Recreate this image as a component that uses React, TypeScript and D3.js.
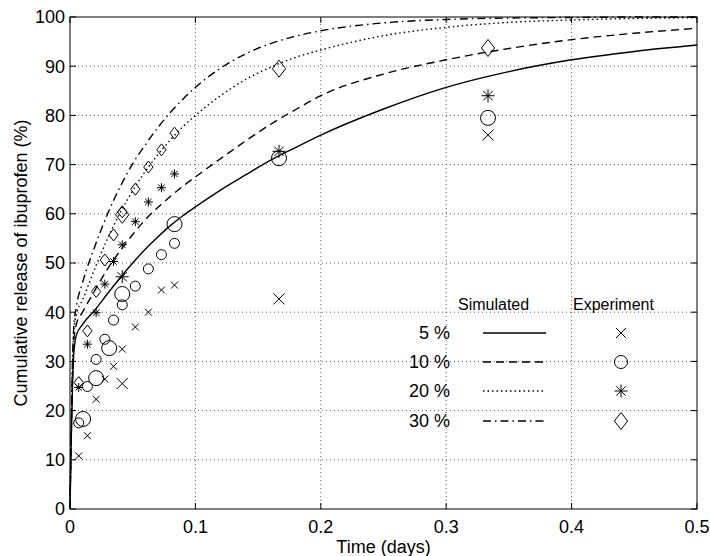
import React, { useEffect, useRef } from 'react';
import * as d3 from 'd3';

// simulated release curves (time in days, release in %)
const simTime = [0, 0.001, 0.002, 0.003, 0.005, 0.01, 0.02, 0.03, 0.04, 0.05, 0.06, 0.07, 0.08, 0.09, 0.1, 0.12, 0.14, 0.16, 0.18, 0.2, 0.25, 0.3, 0.35, 0.4, 0.45, 0.5];
const sim5 = [0, 14, 25, 31.5, 35.3, 37.5, 40.5, 43.8, 47, 50, 52.8, 55.3, 57.6, 59.6, 61.4, 64.8, 67.9, 70.9, 73.5, 76, 81.3, 85.7, 88.9, 91.3, 93, 94.3];
const sim10 = [0, 15, 27, 34, 37.5, 40, 44.5, 48.8, 52.5, 55.8, 58.8, 61.3, 63.5, 65.6, 67.5, 71.2, 74.8, 78.2, 81.2, 84, 88.4, 91.3, 93.6, 95.4, 96.7, 97.7];
const sim20 = [0, 16, 29, 36, 39.5, 42.5, 49, 55, 60.2, 64.7, 68.6, 72, 75, 77.7, 80, 84, 87.3, 89.8, 91.8, 93.3, 96.2, 97.9, 98.9, 99.4, 99.7, 99.85];
const sim30 = [0, 17, 30, 37, 41, 46, 53.5, 60, 65.5, 70.2, 74, 77.5, 80.6, 83.3, 85.7, 89.6, 92.5, 94.6, 96.1, 97.2, 98.8, 99.5, 99.8, 99.9, 100, 100];

// experiment, sampled every 10 min up to 2 h (small markers)
const minutesA = [10, 20, 30, 40, 50, 60, 75, 90, 105, 120];
const expA5 = [10.8, 14.9, 22.3, 26.4, 29, 32.5, 37, 40, 44.5, 45.5];
const expA10 = [17.5, 24.9, 30.4, 34.5, 38.4, 41.5, 45.3, 48.8, 51.7, 54];
const expA20 = [24.7, 33.5, 39.9, 45.7, 50.3, 53.7, 58.4, 62.4, 65.3, 68.1];
const expA30 = [25.7, 36.2, 44.2, 50.6, 55.7, 60.4, 65, 69.5, 73, 76.4];

// experiment, second series (large markers)
const minutesB5 = [60, 240, 480];
const expB5 = [25.5, 42.7, 76];
const minutesB10 = [15, 30, 45, 60, 120, 240, 480];
const expB10 = [18.3, 26.6, 32.7, 43.7, 57.9, 71.3, 79.5];
const minutesB20 = [60, 240, 480];
const expB20 = [47.2, 72.7, 84];
const minutesB30 = [60, 240, 480];
const expB30 = [59.8, 89.5, 93.7];

const labels = ['5 %', '10 %', '20 %', '30 %'];
const xTicks = [0, 0.1, 0.2, 0.3, 0.4, 0.5];
const yTicks = [0, 10, 20, 30, 40, 50, 60, 70, 80, 90, 100];

const dashes = [null, '8,5', '1.5,3', '8,4,1.5,4'];
const markers = ['x', 'o', '*', 'd'];

function markerPath(type: string, s: number) {
  if (type === 'x') return `M${-s},${-s}L${s},${s}M${-s},${s}L${s},${-s}`;
  if (type === '*') {
    const k = s * 0.72;
    return `M${-s},0L${s},0M0,${-s}L0,${s}M${-k},${-k}L${k},${k}M${-k},${k}L${k},${-k}`;
  }
  if (type === 'd') {
    const w = s * 0.78;
    return `M0,${-s}L${w},0L0,${s}L${-w},0Z`;
  }
  return '';
}

export default function App() {
  const svgRef = useRef<SVGSVGElement | null>(null);

  useEffect(() => {
    const svg = d3.select(svgRef.current);
    svg.selectAll('*').remove();
    const font = '"Liberation Sans", Arial, Helvetica, sans-serif';

    const x = d3.scaleLinear().domain([0, 0.5]).range([70, 697]);
    const y = d3.scaleLinear().domain([0, 100]).range([509, 17]);

    // grid
    const grid = svg.append('g').attr('stroke', '#333').attr('stroke-width', 0.8).attr('stroke-dasharray', '1,3');
    xTicks.slice(1, -1).forEach(t => {
      grid.append('line').attr('x1', x(t)).attr('x2', x(t)).attr('y1', y(0)).attr('y2', y(100));
    });
    yTicks.slice(1, -1).forEach(t => {
      grid.append('line').attr('x1', x(0)).attr('x2', x(0.5)).attr('y1', y(t)).attr('y2', y(t));
    });

    // box + ticks
    svg.append('rect').attr('x', x(0)).attr('y', y(100)).attr('width', x(0.5) - x(0)).attr('height', y(0) - y(100))
      .attr('fill', 'none').attr('stroke', 'black').attr('stroke-width', 1);
    const tk = svg.append('g').attr('stroke', 'black').attr('stroke-width', 1);
    xTicks.forEach(t => {
      tk.append('line').attr('x1', x(t)).attr('x2', x(t)).attr('y1', y(0)).attr('y2', y(0) - 6);
      tk.append('line').attr('x1', x(t)).attr('x2', x(t)).attr('y1', y(100)).attr('y2', y(100) + 6);
    });
    yTicks.forEach(t => {
      tk.append('line').attr('x1', x(0)).attr('x2', x(0) + 6).attr('y1', y(t)).attr('y2', y(t));
      tk.append('line').attr('x1', x(0.5)).attr('x2', x(0.5) - 6).attr('y1', y(t)).attr('y2', y(t));
    });

    const txt = svg.append('g').attr('font-family', font).attr('font-size', 18).attr('fill', 'black');
    xTicks.forEach(t => {
      txt.append('text').attr('x', x(t)).attr('y', 533).attr('text-anchor', 'middle').text(String(t));
    });
    yTicks.forEach(t => {
      txt.append('text').attr('x', 65).attr('y', y(t)).attr('dy', '0.36em').attr('text-anchor', 'end').text(String(t));
    });
    txt.append('text').attr('x', (x(0) + x(0.5)) / 2).attr('y', 553).attr('text-anchor', 'middle').text('Time (days)');
    txt.append('text').attr('transform', `translate(27,${(y(0) + y(100)) / 2}) rotate(-90)`)
      .attr('text-anchor', 'middle').text('Cumulative release of ibuprofen (%)');

    // simulated curves
    const line = d3.line<number>()
      .x((d, i) => x(simTime[i]))
      .y(d => y(d))
      .curve(d3.curveMonotoneX);
    [sim5, sim10, sim20, sim30].forEach((s, i) => {
      svg.append('path').attr('d', line(s))
        .attr('fill', 'none').attr('stroke', 'black').attr('stroke-width', 1.4)
        .attr('stroke-dasharray', dashes[i]);
    });

    // experiment markers
    const drawMarker = (g: any, type: string, cx: number, cy: number, s: number) => {
      if (type === 'o') {
        g.append('circle').attr('cx', cx).attr('cy', cy).attr('r', s)
          .attr('fill', 'none').attr('stroke', 'black').attr('stroke-width', 1);
      } else {
        g.append('path').attr('d', markerPath(type, s)).attr('transform', `translate(${cx},${cy})`)
          .attr('fill', 'none').attr('stroke', 'black').attr('stroke-width', 1);
      }
    };
    const mk = svg.append('g');
    const smallSize: any = { x: 3.5, o: 5, '*': 4.5, d: 6 };
    const largeSize: any = { x: 5.5, o: 7.5, '*': 6.5, d: 8.5 };
    [expA5, expA10, expA20, expA30].forEach((s, i) => {
      s.forEach((v, j) => drawMarker(mk, markers[i], x(minutesA[j] / 1440), y(v), smallSize[markers[i]]));
    });
    const bTimes = [minutesB5, minutesB10, minutesB20, minutesB30];
    [expB5, expB10, expB20, expB30].forEach((s, i) => {
      s.forEach((v, j) => drawMarker(mk, markers[i], x(bTimes[i][j] / 1440), y(v), largeSize[markers[i]]));
    });

    // legend
    const lg = svg.append('g');
    lg.append('text').attr('x', 458).attr('y', 310).attr('font-family', font).attr('font-size', 16).text('Simulated');
    lg.append('text').attr('x', 573).attr('y', 310).attr('font-family', font).attr('font-size', 16).text('Experiment');
    const rows = [333, 362, 391, 421];
    labels.forEach((l, i) => {
      lg.append('text').attr('x', 450).attr('y', rows[i]).attr('dy', '0.36em').attr('text-anchor', 'end')
        .attr('font-family', font).attr('font-size', 18).text(l);
      lg.append('line').attr('x1', 483).attr('x2', 546).attr('y1', rows[i]).attr('y2', rows[i])
        .attr('stroke', 'black').attr('stroke-width', 1.4).attr('stroke-dasharray', dashes[i]);
      drawMarker(lg, markers[i], 621, rows[i], markers[i] === 'x' ? 5 : markers[i] === 'd' ? 8.5 : 6.5);
    });
  }, []);

  return (
    <svg ref={svgRef} width={710} height={556}
      style={{ position: 'absolute', left: 0, top: 0, background: 'white' }} />
  );
}
